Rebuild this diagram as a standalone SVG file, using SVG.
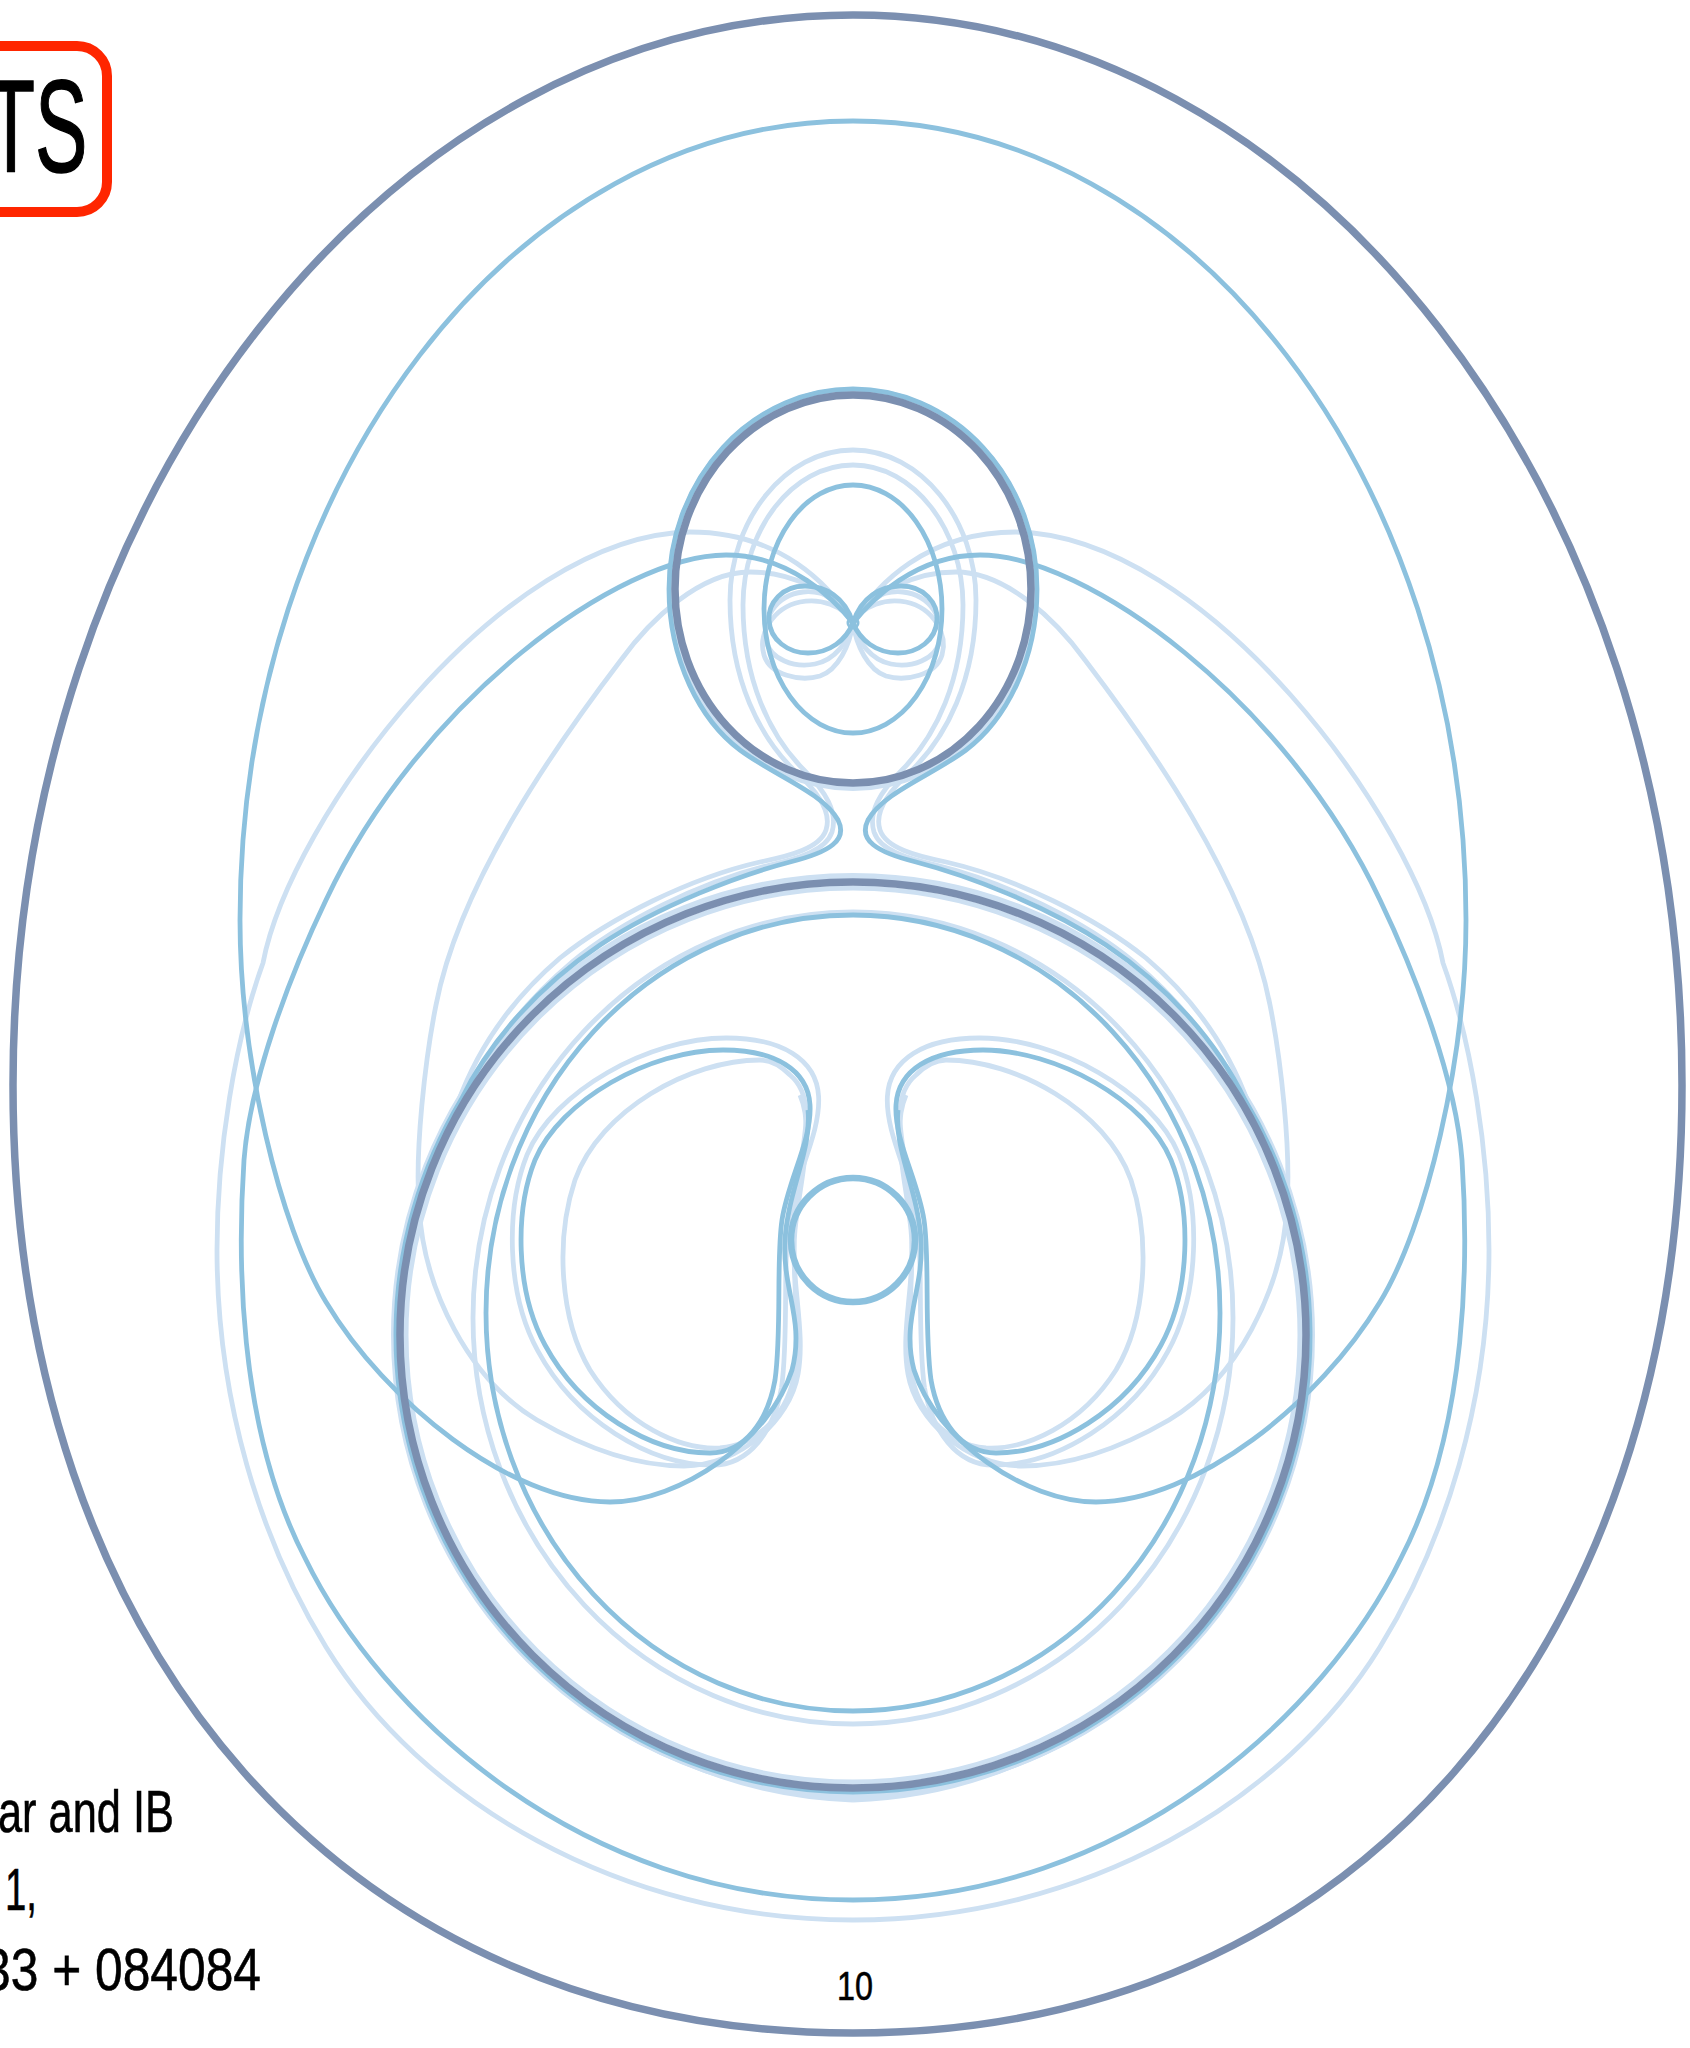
<svg xmlns="http://www.w3.org/2000/svg" xmlns:xlink="http://www.w3.org/1999/xlink" width="1690" height="2048" viewBox="0 0 1690 2048">
<style>
.dk{fill:none;stroke:#7b8fb0;stroke-width:7.5}
.md{fill:none;stroke:#8cc1de;stroke-width:4.8}
.lt{fill:none;stroke:#cde0f2;stroke-width:4.8}
.txt{font-family:"Liberation Sans",Arial,sans-serif;fill:#000;stroke:#000;stroke-width:0.6}
</style>
<defs>
<path id="kid" d="M723,1050 C650,1050 560,1100 535,1160 C515,1210 515,1290 545,1345 C580,1410 650,1453 710,1453 C745,1453 768,1420 775,1380 C782,1330 776,1260 782,1220 C788,1180 812,1140 810,1105 C808,1070 775,1050 723,1050 Z"/>
<g id="halfLight">
<path d="M853,623 C830,585 780,532 690,532 C500,535 290,820 263,963 C235,1040 217,1150 217,1250 C217,1400 260,1540 326,1647 C420,1800 620,1920 853,1920"/>
<path d="M853,623 C830,590 790,572 750,572 C700,572 650,620 621,660 C560,740 460,880 436,1005 C425,1060 415,1150 419,1205 C423,1290 470,1380 537,1420 C580,1445 630,1466 684,1466 C740,1466 790,1420 798,1374 C806,1330 790,1280 795,1230 C800,1180 815,1130 800,1095"/>
<use xlink:href="#kid" transform="translate(-40,-75) scale(1.06)" style="stroke-width:4.5"/>
<path d="M760,1060 C690,1060 600,1110 575,1180 C555,1240 560,1320 590,1370 C625,1425 680,1450 720,1448 C760,1445 790,1410 795,1370 C800,1320 790,1250 795,1200 C800,1150 820,1100 790,1075 C780,1065 770,1060 760,1060 Z"/>
<path d="M853,450 C785,450 730,520 730,600 C730,680 760,738 796,772 C818,792 832,812 826,830 C820,848 790,856 760,862 C690,878 610,918 560,958 C505,1005 475,1055 457,1105 A 461 461 0 0 0 853,1796"/>
<path d="M853,465 C792,465 743,530 743,605 C743,680 770,736 804,770 C826,792 838,812 832,832 C826,850 800,858 770,865 C700,882 620,922 572,962 C515,1010 482,1060 463,1108 A 465 465 0 0 0 853,1800"/>
<path d="M853,623 C845,600 822,590 803,592 C775,595 762,620 766,640 C770,660 795,668 815,664 C835,660 848,642 853,623"/>
<path d="M853,623 C843,605 820,598 800,602 C772,608 758,635 764,655 C770,675 800,682 820,676 C838,670 850,645 853,623"/>
</g>
<g id="halfMed">
<path d="M853,121 C515,121 240,479 240,920 C240,1060 280,1227 326,1302 C386,1402 510,1502 610,1502 C680,1502 770,1440 792,1370 C805,1320 782,1290 785,1240 C788,1190 812,1150 808,1110"/>
<path d="M853,623 C835,600 790,555 726,555 C620,555 420,700 326,900 C290,975 250,1080 244,1160 C238,1250 236,1425 305,1558 C380,1712 580,1900 853,1900"/>
<path d="M853,389 A 184 200 0 0 0 669,589 C669,660 700,720 740,750 C775,776 822,792 838,820 C848,840 830,852 790,862 C740,875 660,905 600,945 C540,985 490,1040 461,1100 A 457 457 0 0 0 853,1792"/>
<use xlink:href="#kid"/>
<path d="M853,623 C845,597 825,586 805,586 C782,586 768,603 769,620 C770,640 788,653 808,653 C830,653 846,640 853,623 Z"/>
</g>
</defs>
<rect width="1690" height="2048" fill="#fff"/>
<g id="light-curves" class="lt">
<use xlink:href="#halfLight"/>
<use xlink:href="#halfLight" transform="matrix(-1,0,0,1,1706,0)"/>
<ellipse cx="853" cy="1318" rx="380" ry="406"/>
<ellipse cx="853" cy="589" rx="183" ry="199" style="stroke-width:6"/>
<circle cx="853" cy="1335" r="459" style="stroke-width:6"/>
<circle cx="853" cy="1335" r="447" style="stroke-width:5"/>
</g>
<g id="medium-curves" class="md">
<use xlink:href="#halfMed"/>
<use xlink:href="#halfMed" transform="matrix(-1,0,0,1,1706,0)"/>
<ellipse cx="853" cy="1313" rx="367" ry="398"/>
<ellipse cx="853" cy="609" rx="89" ry="124"/>
<circle cx="853" cy="1240" r="62" style="stroke-width:6.5"/>
<circle cx="853" cy="623" r="5" style="stroke-width:3"/>
</g>
<g id="dark-curves" class="dk">
<path d="M853,15 C389,15 13,494 13,1085 C13,1654 349,2033 853,2033 C1350,2033 1682,1654 1682,1085 C1682,494 1311,15 853,15 Z"/>
<ellipse cx="853" cy="589" rx="178" ry="194"/>
<circle cx="853" cy="1335" r="453"/>
</g>
<g id="title-box">
<rect x="-40" y="46" width="147" height="166" rx="30" fill="none" stroke="#ff2600" stroke-width="10"/>
<text class="txt" transform="translate(-13,172) scale(0.6,1)" font-size="131" style="stroke-width:1.5">TS</text>
</g>
<g id="credits" class="txt" font-size="60">
<text x="-2" y="1832" textLength="176" lengthAdjust="spacingAndGlyphs">ar and IB</text>
<text x="5" y="1910" textLength="32" lengthAdjust="spacingAndGlyphs">1,</text>
<text x="-17" y="1990" textLength="278" lengthAdjust="spacingAndGlyphs">33 + 084084</text>
</g>
<text id="page-number" class="txt" x="855" y="2000" font-size="41" text-anchor="middle" textLength="36" lengthAdjust="spacingAndGlyphs">10</text>
</svg>
